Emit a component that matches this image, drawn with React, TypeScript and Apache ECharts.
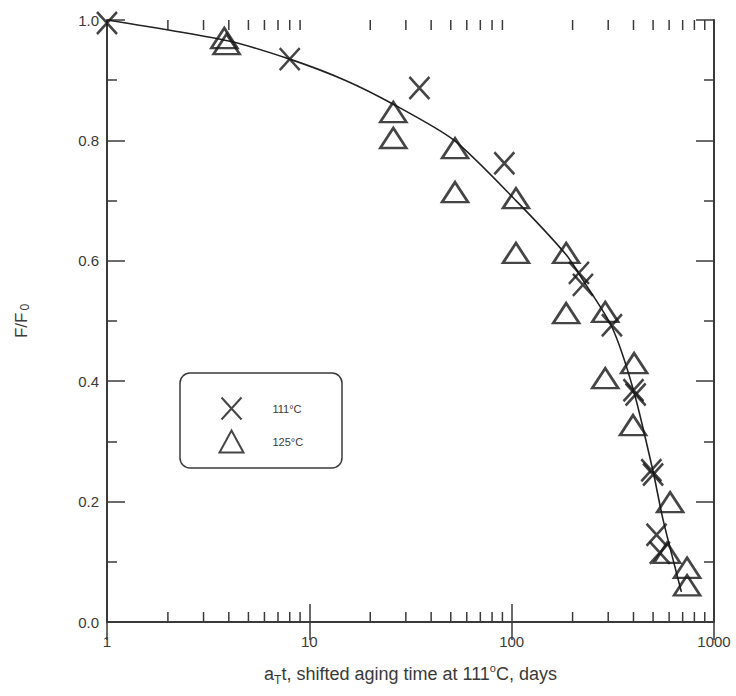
import React, { useEffect, useRef } from "react";
import * as echarts from "echarts";

// 111 °C data (crosses)
const time111 = [1, 8, 35, 92, 215, 225, 313, 400, 410, 490, 500, 520, 540];
const ratio111 = [0.995, 0.935, 0.887, 0.762, 0.58, 0.56, 0.493, 0.385, 0.378, 0.252, 0.245, 0.145, 0.115];

// 125 °C data (triangles)
const time125 = [3.8, 3.9, 26, 26, 52.5, 52.5, 105, 105, 186, 186, 290, 290, 403, 398, 607, 586, 736, 736];
const ratio125 = [0.97, 0.96, 0.847, 0.804, 0.787, 0.714, 0.704, 0.613, 0.613, 0.513, 0.515, 0.405, 0.43, 0.327, 0.199, 0.115, 0.09, 0.061];

// fitted curve
const curveTime = [1, 4, 8, 15, 26, 52, 105, 186, 225, 313, 400, 500, 560, 690];
const curveRatio = [1.0, 0.965, 0.935, 0.9, 0.86, 0.8, 0.7, 0.61, 0.568, 0.49, 0.385, 0.25, 0.17, 0.05];

// minor log ticks
const minorTicks = [2, 3, 4, 5, 6, 7, 8, 9, 20, 30, 40, 50, 60, 70, 80, 90, 200, 300, 400, 500, 600, 700, 800, 900];

const yTicks = [0, 0.2, 0.4, 0.6, 0.8, 1.0];

const INK = "#3a3a3a";
const MARK = "#161616";
const FONT = "'Liberation Sans', Arial, Helvetica, sans-serif";

export default function App() {
  const ref = useRef<HTMLDivElement>(null);
  useEffect(() => {
    if (!ref.current) return;
    const chart = echarts.init(ref.current, undefined, { renderer: "svg" });
    const zip = (a: number[], b: number[]) => a.map((v, i) => [v, b[i]]);
    const axisLine = { show: true, lineStyle: { color: INK, width: 2 } };
    chart.setOption({
      animation: false,
      backgroundColor: "#fff",
      textStyle: { fontFamily: FONT },
      grid: { left: 107, right: 22, top: 20, bottom: 74 },
      legend: {
        data: ["111°C", "125°C"],
        orient: "vertical",
        left: 212,
        top: 390,
        itemWidth: 24,
        itemHeight: 22,
        itemGap: 6,
        textStyle: { fontSize: 11, color: INK, fontFamily: FONT, padding: [0, 0, 0, 24] },
        selectedMode: false,
      },
      graphic: [
        {
          type: "rect",
          shape: { x: 180, y: 373, width: 162, height: 95, r: 10 },
          style: { fill: "none", stroke: INK, lineWidth: 1.5 },
          z: 1,
        },
      ],
      xAxis: [
        {
          type: "log",
          min: 1,
          max: 1000,
          logBase: 10,
          position: "bottom",
          axisLine,
          axisTick: { show: true, inside: true, length: 18, lineStyle: { color: INK, width: 1.5 } },
          axisLabel: {
            fontSize: 15,
            color: INK,
            margin: 12,
            fontFamily: FONT,
            formatter: (v: number) => String(Math.round(v)),
          },
          splitLine: { show: false },
          name: "a{sub|T}t, shifted aging time at 111{sup|o}C, days",
          nameLocation: "middle",
          nameGap: 40,
          nameTextStyle: {
            fontSize: 18,
            color: INK,
            fontFamily: FONT,
            rich: {
              sub: { fontSize: 12, verticalAlign: "bottom", padding: [12, 0, 0, 0], color: INK },
              sup: { fontSize: 11, verticalAlign: "top", padding: [0, 0, 10, 0], color: INK },
            },
          },
        },
        {
          type: "log",
          min: 1,
          max: 1000,
          logBase: 10,
          position: "top",
          axisLine,
          axisTick: { show: true, inside: true, length: 18, lineStyle: { color: INK, width: 1.5 } },
          axisLabel: { show: false },
          splitLine: { show: false },
        },
      ],
      yAxis: [
        {
          type: "value",
          min: 0,
          max: 1,
          interval: 0.2,
          position: "left",
          axisLine,
          axisTick: { show: true, inside: true, length: 18, lineStyle: { color: INK, width: 1.5 } },
          minorTick: { show: true, splitNumber: 2, length: 10, lineStyle: { color: INK, width: 1.5 } },
          axisLabel: {
            fontSize: 15,
            color: INK,
            margin: 8,
            fontFamily: FONT,
            formatter: (v: number) => (yTicks.includes(Math.round(v * 10) / 10) ? v.toFixed(1) : ""),
          },
          splitLine: { show: false },
          name: "F/F{sub|0}",
          nameLocation: "middle",
          nameGap: 76,
          nameRotate: 90,
          nameTextStyle: {
            fontSize: 17,
            color: INK,
            fontFamily: FONT,
            rich: { sub: { fontSize: 12, verticalAlign: "bottom", padding: [8, 0, 0, 2], color: INK } },
          },
        },
        {
          type: "value",
          min: 0,
          max: 1,
          interval: 0.2,
          position: "right",
          axisLine,
          axisTick: { show: true, inside: true, length: 18, lineStyle: { color: INK, width: 1.5 } },
          minorTick: { show: true, splitNumber: 2, length: 10, lineStyle: { color: INK, width: 1.5 } },
          axisLabel: { show: false },
          splitLine: { show: false },
        },
      ],
      series: [
        {
          name: "fit",
          type: "line",
          data: zip(curveTime, curveRatio),
          smooth: 0.25,
          showSymbol: false,
          symbol: "none",
          lineStyle: { color: "#222", width: 1.6 },
          z: 2,
        },
        {
          name: "111°C",
          type: "scatter",
          data: zip(time111, ratio111),
          symbol: "path://M0,0L20,22M20,0L0,22",
          symbolSize: [20, 22],
          itemStyle: { color: "none", borderColor: MARK, borderWidth: 2.6 },
          z: 3,
        },
        {
          name: "125°C",
          type: "scatter",
          data: zip(time125, ratio125),
          symbol: "triangle",
          symbolSize: [26, 20],
          itemStyle: { color: "none", borderColor: MARK, borderWidth: 2.6 },
          z: 3,
        },
        {
          name: "minorTicks",
          type: "custom",
          data: minorTicks.map((v) => [v, 0]),
          silent: true,
          clip: false,
          renderItem: (_p: any, api: any) => {
            const v = api.value(0);
            const b = api.coord([v, 0]);
            const t = api.coord([v, 1]);
            const style = { stroke: INK, lineWidth: 1.5 };
            return {
              type: "group",
              children: [
                { type: "line", shape: { x1: b[0], y1: b[1], x2: b[0], y2: b[1] - 10 }, style },
                { type: "line", shape: { x1: t[0], y1: t[1], x2: t[0], y2: t[1] + 10 }, style },
              ],
            };
          },
          z: 1,
        },
      ],
    });
    return () => chart.dispose();
  }, []);
  return (
    <div
      ref={ref}
      style={{ position: "fixed", left: 0, top: 0, width: 736, height: 696, background: "#fff" }}
    />
  );
}
